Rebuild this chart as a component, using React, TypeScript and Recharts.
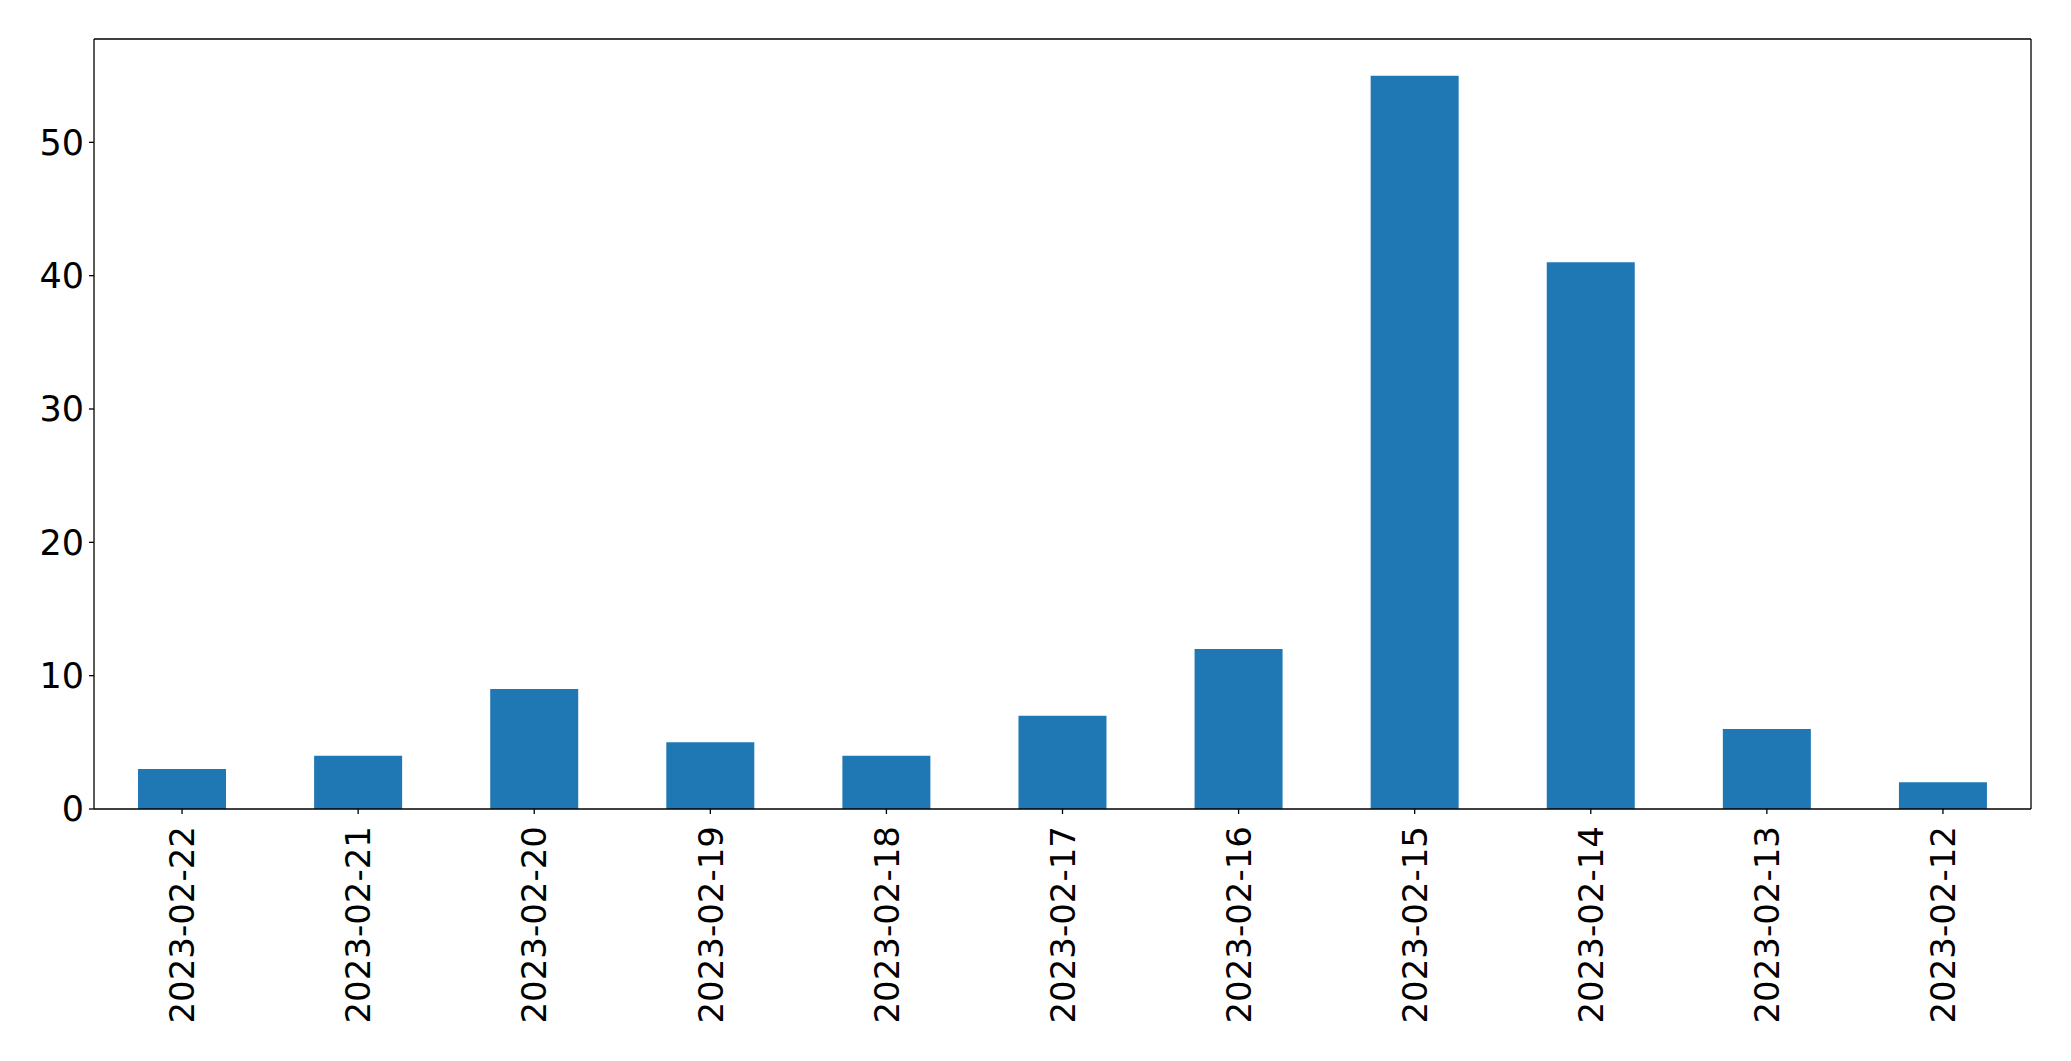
import { Bar, BarChart, XAxis, YAxis } from "recharts";

const dates = [
    "2023-02-22", "2023-02-21", "2023-02-20", "2023-02-19", "2023-02-18", "2023-02-17",
    "2023-02-16", "2023-02-15", "2023-02-14", "2023-02-13", "2023-02-12",
];
const counts = [3, 4, 9, 5, 4, 7, 12, 55, 41, 6, 2];
const yTicks = [0, 10, 20, 30, 40, 50];

const chartData = dates.map((date, i) => ({ date, count: counts[i] }));

const FONT = "'DejaVu Sans', sans-serif";

// rotated date labels hanging below the axis
const DateTick = ({ x, y, payload }: any) => (
    <text
        transform={`translate(${x},${y}) rotate(-90)`}
        textAnchor="end"
        dy="0.36em"
        fontSize={34}
        fontFamily={FONT}
        fill="#000"
    >
        {payload.value}
    </text>
);

export default function App() {
    return (
        <div style={{ position: "absolute", left: 0, top: 0, background: "#fff" }}>
            <BarChart
                width={2071}
                height={1061}
                data={chartData}
                margin={{ top: 38, right: 39, left: 0, bottom: 0 }}
                barCategoryGap="25%"
            >
                <XAxis
                    dataKey="date"
                    interval={0}
                    height={252}
                    tickSize={5}
                    tickMargin={12}
                    tick={<DateTick />}
                    axisLine={{ stroke: "#000", strokeWidth: 1.3 }}
                    tickLine={{ stroke: "#000", strokeWidth: 1.3 }}
                />
                <XAxis
                    xAxisId="top"
                    dataKey="date"
                    orientation="top"
                    height={1}
                    tick={false}
                    tickLine={false}
                    axisLine={{ stroke: "#000", strokeWidth: 1.3 }}
                />
                <YAxis
                    width={94}
                    domain={[0, 57.75]}
                    ticks={yTicks}
                    allowDataOverflow
                    tickSize={5}
                    tickMargin={5}
                    tick={{ fontSize: 35, fontFamily: FONT, fill: "#000" }}
                    axisLine={{ stroke: "#000", strokeWidth: 1.3 }}
                    tickLine={{ stroke: "#000", strokeWidth: 1.3 }}
                />
                <YAxis
                    yAxisId="right"
                    orientation="right"
                    width={1}
                    domain={[0, 57.75]}
                    tick={false}
                    tickLine={false}
                    axisLine={{ stroke: "#000", strokeWidth: 1.3 }}
                />
                <Bar dataKey="count" fill="#1f77b4" isAnimationActive={false} />
            </BarChart>
        </div>
    );
}
